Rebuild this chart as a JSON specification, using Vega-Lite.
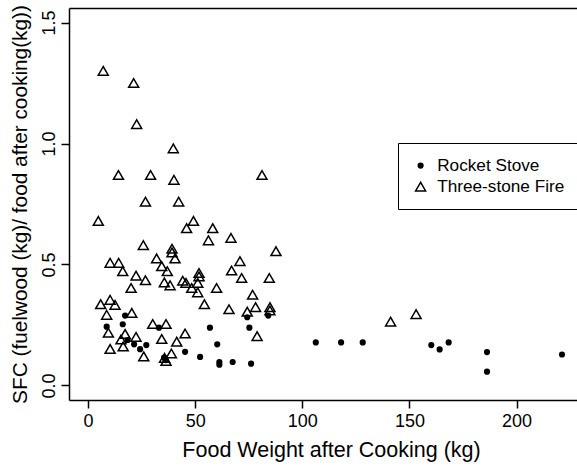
{
  "$schema": "https://vega.github.io/schema/vega-lite/v6.json",
  "width": 508,
  "height": 392,
  "autosize": {"type": "none"},
  "padding": {"left": 69, "top": 8, "right": 0, "bottom": 66},
  "background": "white",
  "config": {
    "view": {"stroke": null},
    "font": "Liberation Sans",
    "axis": {
      "domainColor": "black", "domainWidth": 1.5, "tickColor": "black", "tickWidth": 1.5,
      "labelColor": "black", "titleColor": "black", "grid": false,
      "labelFont": "Liberation Sans", "titleFont": "Liberation Sans",
      "labelFontSize": 18, "titleFontSize": 21.5, "titleFontWeight": "normal", "tickSize": 8
    },
    "legend": {
      "labelFont": "Liberation Sans", "labelFontSize": 17.2, "labelColor": "black"
    }
  },
  "data": {"values": [
    {"food": 8.7, "sfc": 0.243, "stove": "Rocket Stove"},
    {"food": 16.2, "sfc": 0.253, "stove": "Rocket Stove"},
    {"food": 17.3, "sfc": 0.289, "stove": "Rocket Stove"},
    {"food": 18.5, "sfc": 0.188, "stove": "Rocket Stove"},
    {"food": 21.5, "sfc": 0.170, "stove": "Rocket Stove"},
    {"food": 24.3, "sfc": 0.150, "stove": "Rocket Stove"},
    {"food": 27.2, "sfc": 0.167, "stove": "Rocket Stove"},
    {"food": 33.1, "sfc": 0.239, "stove": "Rocket Stove"},
    {"food": 35.5, "sfc": 0.115, "stove": "Rocket Stove"},
    {"food": 36.3, "sfc": 0.105, "stove": "Rocket Stove"},
    {"food": 45.3, "sfc": 0.139, "stove": "Rocket Stove"},
    {"food": 52.3, "sfc": 0.118, "stove": "Rocket Stove"},
    {"food": 56.9, "sfc": 0.239, "stove": "Rocket Stove"},
    {"food": 60.3, "sfc": 0.170, "stove": "Rocket Stove"},
    {"food": 61.3, "sfc": 0.097, "stove": "Rocket Stove"},
    {"food": 61.3, "sfc": 0.086, "stove": "Rocket Stove"},
    {"food": 67.5, "sfc": 0.097, "stove": "Rocket Stove"},
    {"food": 76.1, "sfc": 0.090, "stove": "Rocket Stove"},
    {"food": 74.3, "sfc": 0.282, "stove": "Rocket Stove"},
    {"food": 75.3, "sfc": 0.239, "stove": "Rocket Stove"},
    {"food": 84.1, "sfc": 0.289, "stove": "Rocket Stove"},
    {"food": 106.3, "sfc": 0.178, "stove": "Rocket Stove"},
    {"food": 118.1, "sfc": 0.178, "stove": "Rocket Stove"},
    {"food": 128.2, "sfc": 0.178, "stove": "Rocket Stove"},
    {"food": 160.2, "sfc": 0.167, "stove": "Rocket Stove"},
    {"food": 164.1, "sfc": 0.149, "stove": "Rocket Stove"},
    {"food": 168.3, "sfc": 0.178, "stove": "Rocket Stove"},
    {"food": 186.2, "sfc": 0.138, "stove": "Rocket Stove"},
    {"food": 186.2, "sfc": 0.057, "stove": "Rocket Stove"},
    {"food": 221.2, "sfc": 0.128, "stove": "Rocket Stove"},
    {"food": 7.1, "sfc": 1.30, "stove": "Three-stone Fire"},
    {"food": 21.3, "sfc": 1.25, "stove": "Three-stone Fire"},
    {"food": 22.7, "sfc": 1.08, "stove": "Three-stone Fire"},
    {"food": 39.8, "sfc": 0.98, "stove": "Three-stone Fire"},
    {"food": 14.2, "sfc": 0.87, "stove": "Three-stone Fire"},
    {"food": 29.2, "sfc": 0.87, "stove": "Three-stone Fire"},
    {"food": 40.1, "sfc": 0.85, "stove": "Three-stone Fire"},
    {"food": 81.2, "sfc": 0.87, "stove": "Three-stone Fire"},
    {"food": 26.8, "sfc": 0.76, "stove": "Three-stone Fire"},
    {"food": 42.3, "sfc": 0.76, "stove": "Three-stone Fire"},
    {"food": 4.8, "sfc": 0.68, "stove": "Three-stone Fire"},
    {"food": 49.2, "sfc": 0.68, "stove": "Three-stone Fire"},
    {"food": 46.0, "sfc": 0.65, "stove": "Three-stone Fire"},
    {"food": 58.2, "sfc": 0.65, "stove": "Three-stone Fire"},
    {"food": 56.2, "sfc": 0.60, "stove": "Three-stone Fire"},
    {"food": 66.7, "sfc": 0.61, "stove": "Three-stone Fire"},
    {"food": 25.8, "sfc": 0.58, "stove": "Three-stone Fire"},
    {"food": 39.2, "sfc": 0.565, "stove": "Three-stone Fire"},
    {"food": 39.2, "sfc": 0.55, "stove": "Three-stone Fire"},
    {"food": 40.6, "sfc": 0.525, "stove": "Three-stone Fire"},
    {"food": 87.7, "sfc": 0.555, "stove": "Three-stone Fire"},
    {"food": 32.0, "sfc": 0.525, "stove": "Three-stone Fire"},
    {"food": 10.3, "sfc": 0.507, "stove": "Three-stone Fire"},
    {"food": 14.3, "sfc": 0.507, "stove": "Three-stone Fire"},
    {"food": 16.2, "sfc": 0.472, "stove": "Three-stone Fire"},
    {"food": 34.4, "sfc": 0.493, "stove": "Three-stone Fire"},
    {"food": 37.0, "sfc": 0.472, "stove": "Three-stone Fire"},
    {"food": 70.9, "sfc": 0.514, "stove": "Three-stone Fire"},
    {"food": 67.0, "sfc": 0.475, "stove": "Three-stone Fire"},
    {"food": 71.7, "sfc": 0.444, "stove": "Three-stone Fire"},
    {"food": 51.8, "sfc": 0.465, "stove": "Three-stone Fire"},
    {"food": 51.8, "sfc": 0.451, "stove": "Three-stone Fire"},
    {"food": 22.4, "sfc": 0.454, "stove": "Three-stone Fire"},
    {"food": 26.8, "sfc": 0.435, "stove": "Three-stone Fire"},
    {"food": 20.1, "sfc": 0.403, "stove": "Three-stone Fire"},
    {"food": 35.6, "sfc": 0.426, "stove": "Three-stone Fire"},
    {"food": 38.3, "sfc": 0.414, "stove": "Three-stone Fire"},
    {"food": 44.2, "sfc": 0.433, "stove": "Three-stone Fire"},
    {"food": 45.7, "sfc": 0.424, "stove": "Three-stone Fire"},
    {"food": 48.4, "sfc": 0.403, "stove": "Three-stone Fire"},
    {"food": 51.2, "sfc": 0.424, "stove": "Three-stone Fire"},
    {"food": 51.2, "sfc": 0.385, "stove": "Three-stone Fire"},
    {"food": 60.0, "sfc": 0.403, "stove": "Three-stone Fire"},
    {"food": 84.6, "sfc": 0.444, "stove": "Three-stone Fire"},
    {"food": 54.3, "sfc": 0.336, "stove": "Three-stone Fire"},
    {"food": 76.8, "sfc": 0.375, "stove": "Three-stone Fire"},
    {"food": 65.8, "sfc": 0.315, "stove": "Three-stone Fire"},
    {"food": 74.3, "sfc": 0.305, "stove": "Three-stone Fire"},
    {"food": 78.2, "sfc": 0.324, "stove": "Three-stone Fire"},
    {"food": 84.9, "sfc": 0.324, "stove": "Three-stone Fire"},
    {"food": 84.9, "sfc": 0.310, "stove": "Three-stone Fire"},
    {"food": 5.9, "sfc": 0.336, "stove": "Three-stone Fire"},
    {"food": 10.3, "sfc": 0.354, "stove": "Three-stone Fire"},
    {"food": 12.6, "sfc": 0.333, "stove": "Three-stone Fire"},
    {"food": 8.7, "sfc": 0.292, "stove": "Three-stone Fire"},
    {"food": 20.4, "sfc": 0.300, "stove": "Three-stone Fire"},
    {"food": 30.2, "sfc": 0.254, "stove": "Three-stone Fire"},
    {"food": 36.4, "sfc": 0.254, "stove": "Three-stone Fire"},
    {"food": 9.5, "sfc": 0.218, "stove": "Three-stone Fire"},
    {"food": 17.3, "sfc": 0.213, "stove": "Three-stone Fire"},
    {"food": 22.4, "sfc": 0.201, "stove": "Three-stone Fire"},
    {"food": 15.4, "sfc": 0.190, "stove": "Three-stone Fire"},
    {"food": 34.4, "sfc": 0.192, "stove": "Three-stone Fire"},
    {"food": 45.3, "sfc": 0.215, "stove": "Three-stone Fire"},
    {"food": 78.9, "sfc": 0.204, "stove": "Three-stone Fire"},
    {"food": 41.4, "sfc": 0.181, "stove": "Three-stone Fire"},
    {"food": 16.4, "sfc": 0.161, "stove": "Three-stone Fire"},
    {"food": 10.3, "sfc": 0.151, "stove": "Three-stone Fire"},
    {"food": 26.0, "sfc": 0.120, "stove": "Three-stone Fire"},
    {"food": 38.9, "sfc": 0.132, "stove": "Three-stone Fire"},
    {"food": 35.7, "sfc": 0.114, "stove": "Three-stone Fire"},
    {"food": 36.4, "sfc": 0.101, "stove": "Three-stone Fire"},
    {"food": 141.2, "sfc": 0.264, "stove": "Three-stone Fire"},
    {"food": 153.1, "sfc": 0.295, "stove": "Three-stone Fire"}
  ]},
  "layer": [
    {
      "mark": {"type": "point", "stroke": "black", "strokeWidth": 1.5, "opacity": 1},
      "encoding": {
        "x": {"field": "food", "type": "quantitative",
          "scale": {"domain": [-8.88, 228.2], "nice": false, "zero": false},
          "axis": {"orient": "bottom", "values": [0, 50, 100, 150, 200], "title": "Food Weight after Cooking (kg)", "labelPadding": 4, "titlePadding": 9, "titleX": 262, "labelFlush": false}},
        "y": {"field": "sfc", "type": "quantitative",
          "scale": {"domain": [-0.06, 1.56], "nice": false, "zero": false},
          "axis": {"values": [0, 0.5, 1, 1.5], "format": ".1f", "labelAngle": 270, "labelAlign": "center", "labelBaseline": "alphabetic", "labelPadding": 7, "labelFlush": false, "title": "SFC (fuelwood (kg)/ food after cooking(kg))", "titleFontSize": 20.8, "titlePadding": 10}},
        "shape": {"field": "stove", "type": "nominal",
          "scale": {"domain": ["Rocket Stove", "Three-stone Fire"], "range": ["circle", "triangle-up"]},
          "legend": {"title": null, "orient": "none", "legendX": 329, "legendY": 135,
            "strokeColor": "black", "padding": 14, "labelOffset": 8, "rowPadding": 3,
            "symbolStrokeColor": "black", "symbolStrokeWidth": 1.5, "fillColor": "white"}},
        "fill": {"field": "stove", "type": "nominal",
          "scale": {"domain": ["Rocket Stove", "Three-stone Fire"], "range": ["black", "transparent"]},
          "legend": {"title": null}},
        "size": {"field": "stove", "type": "nominal",
          "scale": {"domain": ["Rocket Stove", "Three-stone Fire"], "range": [22, 100]},
          "legend": {"title": null}}
      }
    },
    {
      "mark": {"type": "point", "opacity": 0},
      "encoding": {
        "x": {"field": "food", "type": "quantitative",
          "axis": {"orient": "top", "labels": false, "ticks": false, "title": null, "domain": true}}
      }
    }
  ],
  "resolve": {"axis": {"x": "independent"}}
}
